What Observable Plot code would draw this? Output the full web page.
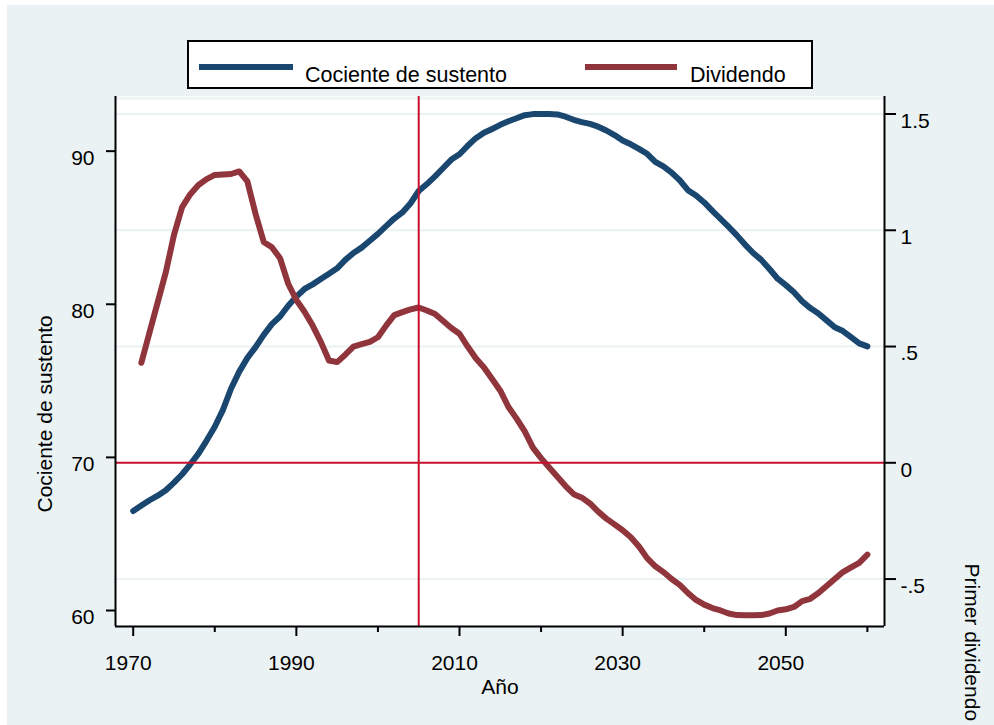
<!DOCTYPE html>
<html>
<head>
<meta charset="utf-8">
<script src="https://cdn.jsdelivr.net/npm/d3@7"></script>
<script src="https://cdn.jsdelivr.net/npm/@observablehq/plot@0.6"></script>
<style>
  html, body { margin: 0; padding: 0; background: #ffffff; }
  #page { position: relative; width: 994px; height: 725px; overflow: hidden;
          font-family: "Liberation Sans", Arial, Helvetica, sans-serif; }
  #bg { position: absolute; left: 7px; top: 5px; right: 0; bottom: 0; background: #eaf2f3; }
  #chart { position: absolute; left: 0; top: 0; }
  #legend { position: absolute; left: 187px; top: 40px; }
</style>
</head>
<body>
<div id="page">
  <div id="bg"></div>
  <div id="chart"></div>
  <div id="legend"></div>
</div>
<script>
// Support ratio (Cociente de sustento), left axis, 1970–2060
const ratioStart = 1970;
const ratioValues = [
  66.5, 66.85, 67.2, 67.5, 67.85, 68.35, 68.9, 69.55, 70.25, 71.1,
  72.0, 73.1, 74.5, 75.6, 76.5, 77.2, 78.0, 78.7, 79.2, 79.9,
  80.5, 81.0, 81.3, 81.65, 82.0, 82.35, 82.9, 83.35, 83.7, 84.15,
  84.6, 85.1, 85.6, 86.0, 86.6, 87.4, 87.85, 88.35, 88.9, 89.45,
  89.8, 90.35, 90.85, 91.2, 91.45, 91.72, 91.95, 92.15, 92.35, 92.42,
  92.42, 92.42, 92.4, 92.25, 92.05, 91.9, 91.78, 91.6, 91.35, 91.05,
  90.7, 90.45, 90.15, 89.83, 89.3, 89.0, 88.6, 88.1, 87.45, 87.1,
  86.65, 86.1, 85.58, 85.05, 84.5, 83.9, 83.35, 82.9, 82.3, 81.67,
  81.25, 80.79, 80.2, 79.75, 79.4, 78.95, 78.5, 78.25, 77.85, 77.45,
  77.25
];

// First demographic dividend (Dividendo), right axis, 1971–2060
const dividendStart = 1971;
const dividendValues = [
  0.43, 0.56, 0.69, 0.82, 0.98, 1.10, 1.155, 1.195, 1.22,
  1.238, 1.24, 1.242, 1.253, 1.21, 1.07, 0.95, 0.927, 0.88, 0.77,
  0.70, 0.65, 0.59, 0.52, 0.44, 0.433, 0.465, 0.50, 0.51, 0.52,
  0.54, 0.59, 0.635, 0.648, 0.66, 0.668, 0.655, 0.64, 0.61, 0.58,
  0.555, 0.50, 0.45, 0.41, 0.36, 0.31, 0.24, 0.19, 0.135, 0.065,
  0.02, -0.02, -0.06, -0.10, -0.135, -0.15, -0.175, -0.21, -0.24, -0.265,
  -0.29, -0.32, -0.36, -0.41, -0.445, -0.47, -0.50, -0.525, -0.56, -0.59,
  -0.61, -0.625, -0.635, -0.648, -0.655, -0.656, -0.656, -0.655, -0.648, -0.635,
  -0.63, -0.62, -0.595, -0.585, -0.56, -0.53, -0.50, -0.47, -0.45, -0.43,
  -0.395
];

// Axis ticks and labels
const xMajorTicks = [1970, 1990, 2010, 2030, 2050];
const xMinorTicks = [1980, 2000, 2020, 2040, 2060];
const leftTicks = [60, 70, 80, 90];
const rightTicks = [-0.5, 0, 0.5, 1, 1.5];
const rightGrid = [-0.5, 0.5, 1, 1.5];
const refYear = 2005;
const refDividend = 0;

const seriesNames = ["Cociente de sustento", "Dividendo"];
const seriesColors = ["#1a476f", "#90353b"];
const xTitle = "Año";
const leftTitle = "Cociente de sustento";
const rightTitle = "Primer dividendo";

// Scale setup: the right axis is an affine rescaling of the left one
const xDomain = [1967.83, 2062.1];
const yDomain = [58.955, 93.57];
const rightOffset = 69.647;   // left-axis value where dividend = 0
const rightRatio = 15.186;    // left-axis units per dividend unit
const toLeft = v => rightOffset + rightRatio * v;
const fmtRight = L => {
  const r = Math.round((L - rightOffset) / rightRatio * 10) / 10;
  return String(r).replace(/^(-?)0\./, "$1.");
};

const ratio = ratioValues.map((v, i) => ({year: ratioStart + i, value: v}));
const dividend = dividendValues.map((v, i) => ({year: dividendStart + i, value: v}));

const font = "Liberation Sans, Arial, Helvetica, sans-serif";
const refColor = "#c8102e";
const gridColor = "#eaf2f3";

const chart = Plot.plot({
  width: 994,
  height: 725,
  marginLeft: 115,
  marginRight: 110,
  marginTop: 96,
  marginBottom: 99,
  style: {background: "transparent", fontFamily: font, fontSize: "21px", color: "#000", overflow: "visible"},
  x: {domain: xDomain, axis: null},
  y: {domain: yDomain, axis: null},
  marks: [
    Plot.frame({fill: "#ffffff"}),
    Plot.ruleY(rightGrid.map(toLeft), {stroke: gridColor, strokeWidth: 2}),
    Plot.ruleY([yDomain[1]], {stroke: gridColor, strokeWidth: 2, dy: 2}),
    Plot.line(ratio, {x: "year", y: "value", stroke: seriesColors[0], strokeWidth: 6, strokeLinejoin: "round"}),
    Plot.line(dividend, {x: "year", y: d => toLeft(d.value), stroke: seriesColors[1], strokeWidth: 6, strokeLinejoin: "round"}),
    Plot.ruleX([refYear], {stroke: refColor, strokeWidth: 2}),
    Plot.ruleY([toLeft(refDividend)], {stroke: refColor, strokeWidth: 2}),
    // axis lines
    Plot.ruleX([xDomain[0]], {stroke: "#000", strokeWidth: 2}),
    Plot.ruleX([xDomain[1]], {stroke: "#000", strokeWidth: 2}),
    Plot.ruleY([yDomain[0]], {x1: xDomain[0], x2: xDomain[1], stroke: "#000", strokeWidth: 2}),
    // left axis
    Plot.axisY({ticks: leftTicks, tickSize: 9, strokeWidth: 2, fill: "none", label: null}),
    Plot.axisY({ticks: leftTicks, tickSize: 0, tickPadding: 21, dy: 7, label: null, tickFormat: d => String(d)}),
    // right axis
    Plot.axisY({anchor: "right", ticks: rightTicks.map(toLeft), tickSize: 11, strokeWidth: 2, fill: "none", label: null}),
    Plot.axisY({anchor: "right", ticks: rightTicks.map(toLeft), tickSize: 0, tickPadding: 16, dy: 7, label: null, tickFormat: fmtRight}),
    // bottom axis
    Plot.axisX({ticks: xMajorTicks, tickSize: 10, strokeWidth: 2, fill: "none", label: null}),
    Plot.axisX({ticks: xMinorTicks, tickSize: 6, strokeWidth: 2, fill: "none", label: null}),
    Plot.axisX({ticks: xMajorTicks, tickSize: 0, tickPadding: 29, dx: -5, label: null, tickFormat: d => String(d)}),
    // axis titles
    Plot.text([xTitle], {frameAnchor: "bottom", dy: 67, lineAnchor: "bottom", fontSize: 21, fill: "#000"}),
    Plot.text([leftTitle], {frameAnchor: "left", dx: -70, dy: 151, rotate: -90, textAnchor: "start", lineAnchor: "middle", fontSize: 21, fill: "#000"}),
    Plot.text([rightTitle], {frameAnchor: "right", dx: 87, dy: 202, rotate: 90, textAnchor: "start", lineAnchor: "middle", fontSize: 21, fill: "#000"})
  ]
});
document.getElementById("chart").appendChild(chart);

// Legend box above the plot
const lg = d3.select("#legend").append("svg")
  .attr("width", 626).attr("height", 49)
  .style("font-family", font).style("font-size", "21.5px");
lg.append("rect").attr("x", 1).attr("y", 1).attr("width", 624).attr("height", 47)
  .attr("fill", "#fff").attr("stroke", "#000").attr("stroke-width", 2);
const items = [{x1: 12, x2: 106, tx: 118}, {x1: 398, x2: 490, tx: 503}];
items.forEach((it, i) => {
  lg.append("line").attr("x1", it.x1).attr("x2", it.x2).attr("y1", 27).attr("y2", 27)
    .attr("stroke", seriesColors[i]).attr("stroke-width", 6);
  lg.append("text").attr("x", it.tx).attr("y", 41.5).attr("fill", "#000").text(seriesNames[i]);
});
</script>
</body>
</html>
